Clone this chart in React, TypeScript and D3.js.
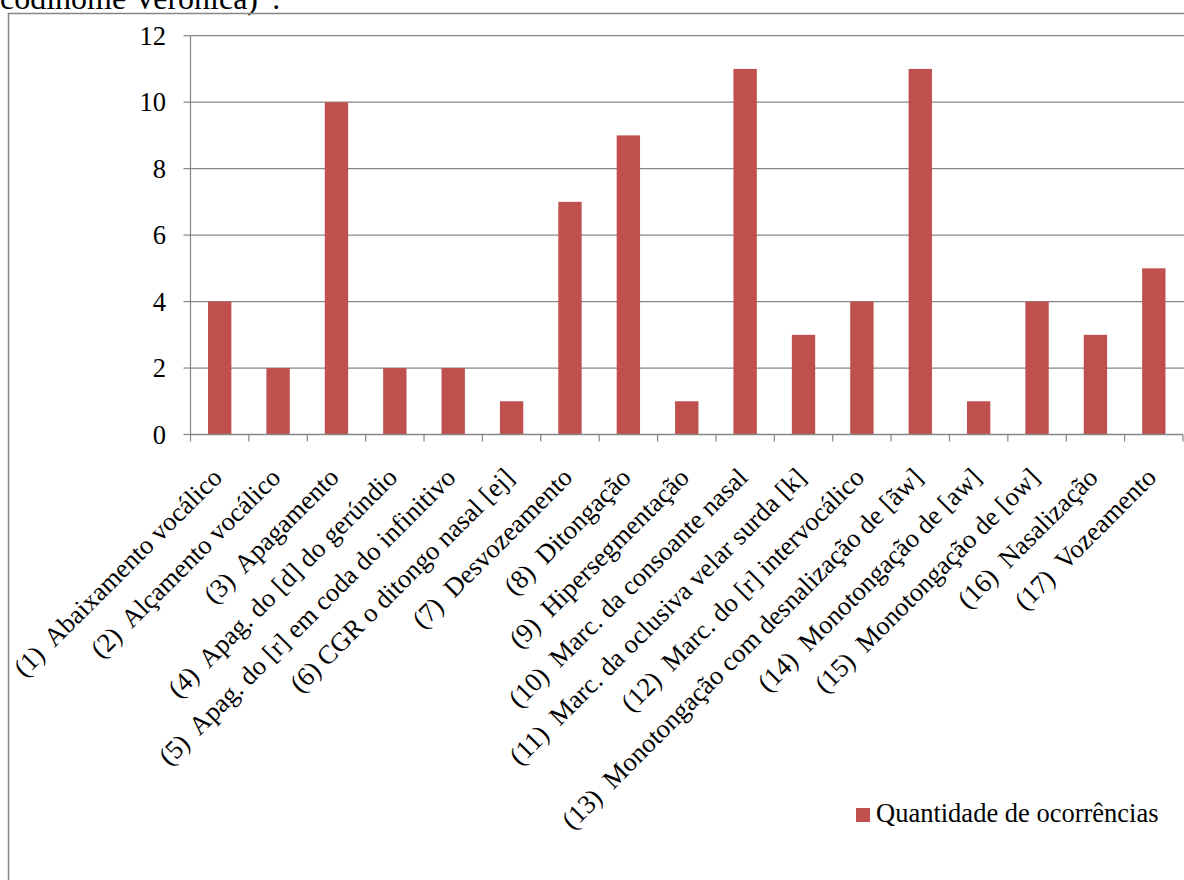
import React from "react";
import * as d3 from "d3";

// Occurrence counts per phonological process
const categories: string[] = [
  "(1)  Abaixamento vocálico",
  "(2)  Alçamento vocálico",
  "(3)  Apagamento",
  "(4)  Apag. do [d] do gerúndio",
  "(5)  Apag. do [r] em coda do infinitivo",
  "(6) CGR o ditongo nasal [ej]",
  "(7)  Desvozeamento",
  "(8)  Ditongação",
  "(9)  Hipersegmentação",
  "(10)  Marc. da consoante nasal",
  "(11)  Marc. da oclusiva velar surda [k]",
  "(12)  Marc. do [r] intervocálico",
  "(13)  Monotongação com desnalização de [ãw]",
  "(14)  Monotongação de [aw]",
  "(15)  Monotongação de [ow]",
  "(16)  Nasalização",
  "(17)  Vozeamento",
];
const values: number[] = [4, 2, 10, 2, 2, 1, 7, 9, 1, 11, 3, 4, 11, 1, 4, 3, 5];
const yTicks: number[] = [0, 2, 4, 6, 8, 10, 12];
const seriesName = "Quantidade de ocorrências";

const W = 1184;
const H = 880;
const FONT = "Liberation Serif, Times New Roman, serif";
const FS = 26.5;
const BAR = "#C0504D";
const AXIS = "#868686";

const textStyle: React.CSSProperties = { fontFamily: FONT, whiteSpace: "pre" };

export default function App() {
  const left = 190.5;
  const right = 1183;
  const top = 35.7;
  const bottom = 434.5;

  const x = d3
    .scaleBand<string>()
    .domain(categories)
    .range([left, right])
    .paddingInner(0.6)
    .paddingOuter(0.3);
  const y = d3.scaleLinear().domain([0, 12]).range([bottom, top]);
  const step = x.step();
  const boundaries = d3.range(categories.length + 1).map((i) => left + i * step);

  return (
    <svg
      width={W}
      height={H}
      style={{ position: "absolute", left: 0, top: 0, background: "#fff" }}
    >
      <rect x={0} y={0} width={W} height={H} fill="#fff" />
      <text x={0} y={8.5} fontSize={32} fill="#000" style={textStyle}>
        codinome Verônica)”.
      </text>
      {/* chart frame */}
      <rect x={8.5} y={13.5} width={W + 10} height={H + 10} fill="none" stroke={AXIS} strokeWidth={1.5} />

      {/* gridlines and value axis */}
      {yTicks.map((t) => (
        <g key={t}>
          {t > 0 && (
            <line x1={left} x2={W} y1={y(t)} y2={y(t)} stroke={AXIS} strokeWidth={1.2} />
          )}
          <line x1={left - 7} x2={left} y1={y(t)} y2={y(t)} stroke={AXIS} strokeWidth={1.2} />
          <text x={166} y={y(t) + 9} textAnchor="end" fontSize={FS} fill="#000" style={textStyle}>
            {t}
          </text>
        </g>
      ))}
      <line x1={left} x2={left} y1={top} y2={bottom} stroke={AXIS} strokeWidth={1.2} />

      {/* bars */}
      {categories.map((c, i) => (
        <rect
          key={c}
          x={x(c)}
          y={y(values[i])}
          width={x.bandwidth()}
          height={bottom - y(values[i])}
          fill={BAR}
        />
      ))}

      {/* category axis */}
      <line x1={left} x2={right} y1={bottom} y2={bottom} stroke={AXIS} strokeWidth={1.5} />
      {boundaries.map((bx, i) => (
        <line key={i} x1={bx} x2={bx} y1={bottom} y2={bottom + 7} stroke={AXIS} strokeWidth={1.2} />
      ))}
      {categories.map((c) => {
        const cx = (x(c) as number) + x.bandwidth() / 2;
        return (
          <text
            key={c}
            transform={`translate(${cx + 4},479) rotate(-45)`}
            textAnchor="end"
            fontSize={FS}
            fill="#000"
            style={textStyle}
          >
            {c}
          </text>
        );
      })}

      {/* legend */}
      <rect x={856} y={808} width={14} height={14} fill={BAR} />
      <text x={876} y={822} fontSize={FS} fill="#000" style={textStyle}>
        {seriesName}
      </text>
    </svg>
  );
}
